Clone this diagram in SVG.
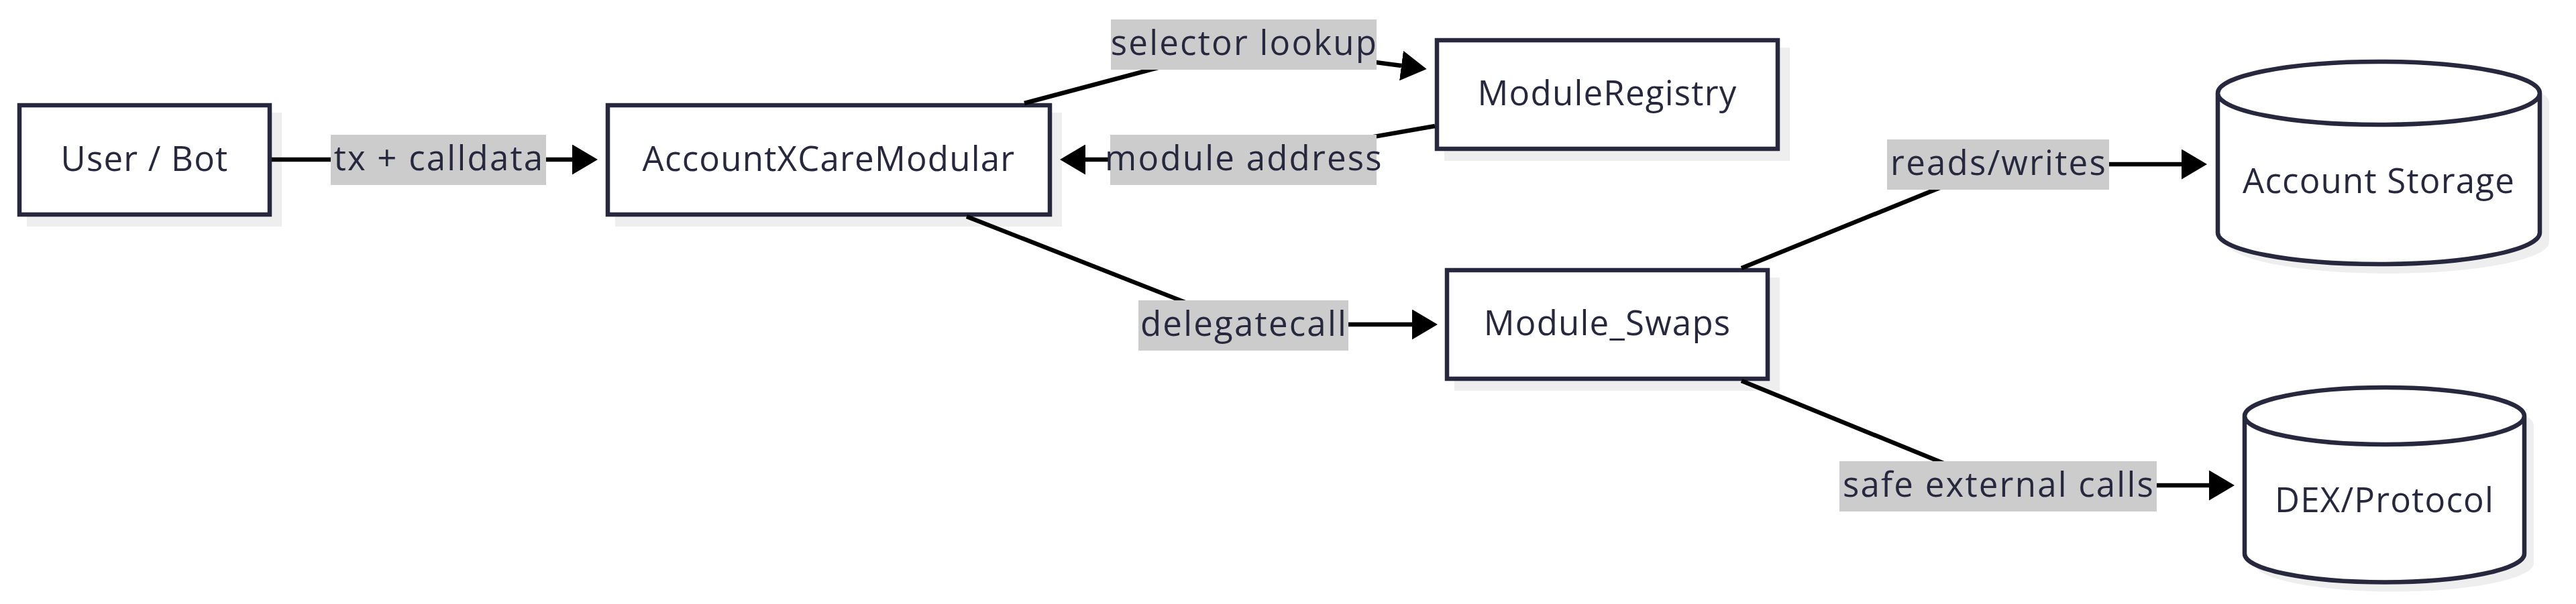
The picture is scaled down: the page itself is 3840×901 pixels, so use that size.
<svg xmlns="http://www.w3.org/2000/svg" width="3840" height="901" viewBox="0 0 3840 901">
<style>
.box{fill:#ffffff;stroke:#27273d;stroke-width:6.5}
.shadow{fill:#eeeeee;stroke:none}
.ntext{font-family:"Open Sans","Noto Sans",sans-serif;font-size:51px;fill:#27273d;text-anchor:middle;letter-spacing:1.2px}
.edge{fill:none;stroke:#000000;stroke-width:6.5}
.lbg{fill:#cccccc}
.ltext{font-family:"Open Sans","Noto Sans",sans-serif;font-size:51px;fill:#27273d;text-anchor:middle;letter-spacing:2.2px}
</style>
<defs>
<marker id="arrow" markerUnits="userSpaceOnUse" markerWidth="38" markerHeight="45" viewBox="0 0 38 45" refX="0" refY="22.5" orient="auto">
<path d="M0,0 L38,22.5 L0,45 Z" fill="#000000"/>
</marker>
</defs>

<g id="node-user">
<rect class="shadow" x="40" y="168" width="380" height="170"/>
<rect class="box" x="29" y="157" width="373" height="163"/>
<text class="ntext" x="215.5" y="255">User / Bot</text>
</g>

<g id="node-account">
<rect class="shadow" x="917" y="168" width="666" height="170"/>
<rect class="box" x="906" y="157" width="659" height="163"/>
<text class="ntext" x="1235.5" y="255">AccountXCareModular</text>
</g>

<g id="node-registry">
<rect class="shadow" x="2153" y="71" width="515" height="169"/>
<rect class="box" x="2142" y="60" width="508" height="162"/>
<text class="ntext" x="2396" y="157">ModuleRegistry</text>
</g>

<g id="node-swaps">
<rect class="shadow" x="2168" y="414" width="485" height="169"/>
<rect class="box" x="2157" y="403" width="478" height="162"/>
<text class="ntext" x="2396" y="500">Module_Swaps</text>
</g>

<g id="node-storage">
<path class="shadow" d="M3320,153 a240,47 0 0 0 480,0 a240,47 0 0 0 -480,0 l0,208 a240,47 0 0 0 480,0 l0,-208"/>
<path class="box" d="M3306,139 a240,47 0 0 0 480,0 a240,47 0 0 0 -480,0 l0,208 a240,47 0 0 0 480,0 l0,-208"/>
<text class="ntext" x="3546" y="288">Account Storage</text>
</g>

<g id="node-dex">
<path class="shadow" d="M3360,634.5 a208.5,42.5 0 0 0 417,0 a208.5,42.5 0 0 0 -417,0 l0,205.5 a208.5,42.5 0 0 0 417,0 l0,-205.5"/>
<path class="box" d="M3346,620.5 a208.5,42.5 0 0 0 417,0 a208.5,42.5 0 0 0 -417,0 l0,205.5 a208.5,42.5 0 0 0 417,0 l0,-205.5"/>
<text class="ntext" x="3554.5" y="764">DEX/Protocol</text>
</g>

<g id="edges">
<path class="edge" d="M405,238 L853,238" marker-end="url(#arrow)"/>
<path class="edge" d="M1527,154 L1854,67 L2089,98" marker-end="url(#arrow)"/>
<path class="edge" d="M2139,188 L1854,238 L1618,238" marker-end="url(#arrow)"/>
<path class="edge" d="M1441,323 L1851,484 L2105,484" marker-end="url(#arrow)"/>
<path class="edge" d="M2596,400 L2978,245 L3252,245" marker-end="url(#arrow)"/>
<path class="edge" d="M2596,568 L2978,724 L3293,724" marker-end="url(#arrow)"/>
</g>

<g id="edge-labels">
<g id="label-tx">
<rect class="lbg" x="493" y="201" width="321" height="75"/>
<text class="ltext" x="654.5" y="254">tx + calldata</text>
</g>
<g id="label-selector">
<rect class="lbg" x="1656" y="29" width="396" height="75"/>
<text class="ltext" x="1855" y="82">selector lookup</text>
</g>
<g id="label-module-address">
<rect class="lbg" x="1655" y="201" width="397" height="75"/>
<text class="ltext" x="1854.5" y="254">module address</text>
</g>
<g id="label-delegatecall">
<rect class="lbg" x="1697" y="448" width="313" height="75"/>
<text class="ltext" x="1854.5" y="501">delegatecall</text>
</g>
<g id="label-reads-writes">
<rect class="lbg" x="2813" y="208" width="331" height="75"/>
<text class="ltext" x="2979.5" y="261">reads/writes</text>
</g>
<g id="label-safe-calls">
<rect class="lbg" x="2742" y="688" width="473" height="75"/>
<text class="ltext" x="2979.5" y="741">safe external calls</text>
</g>
</g>
</svg>
